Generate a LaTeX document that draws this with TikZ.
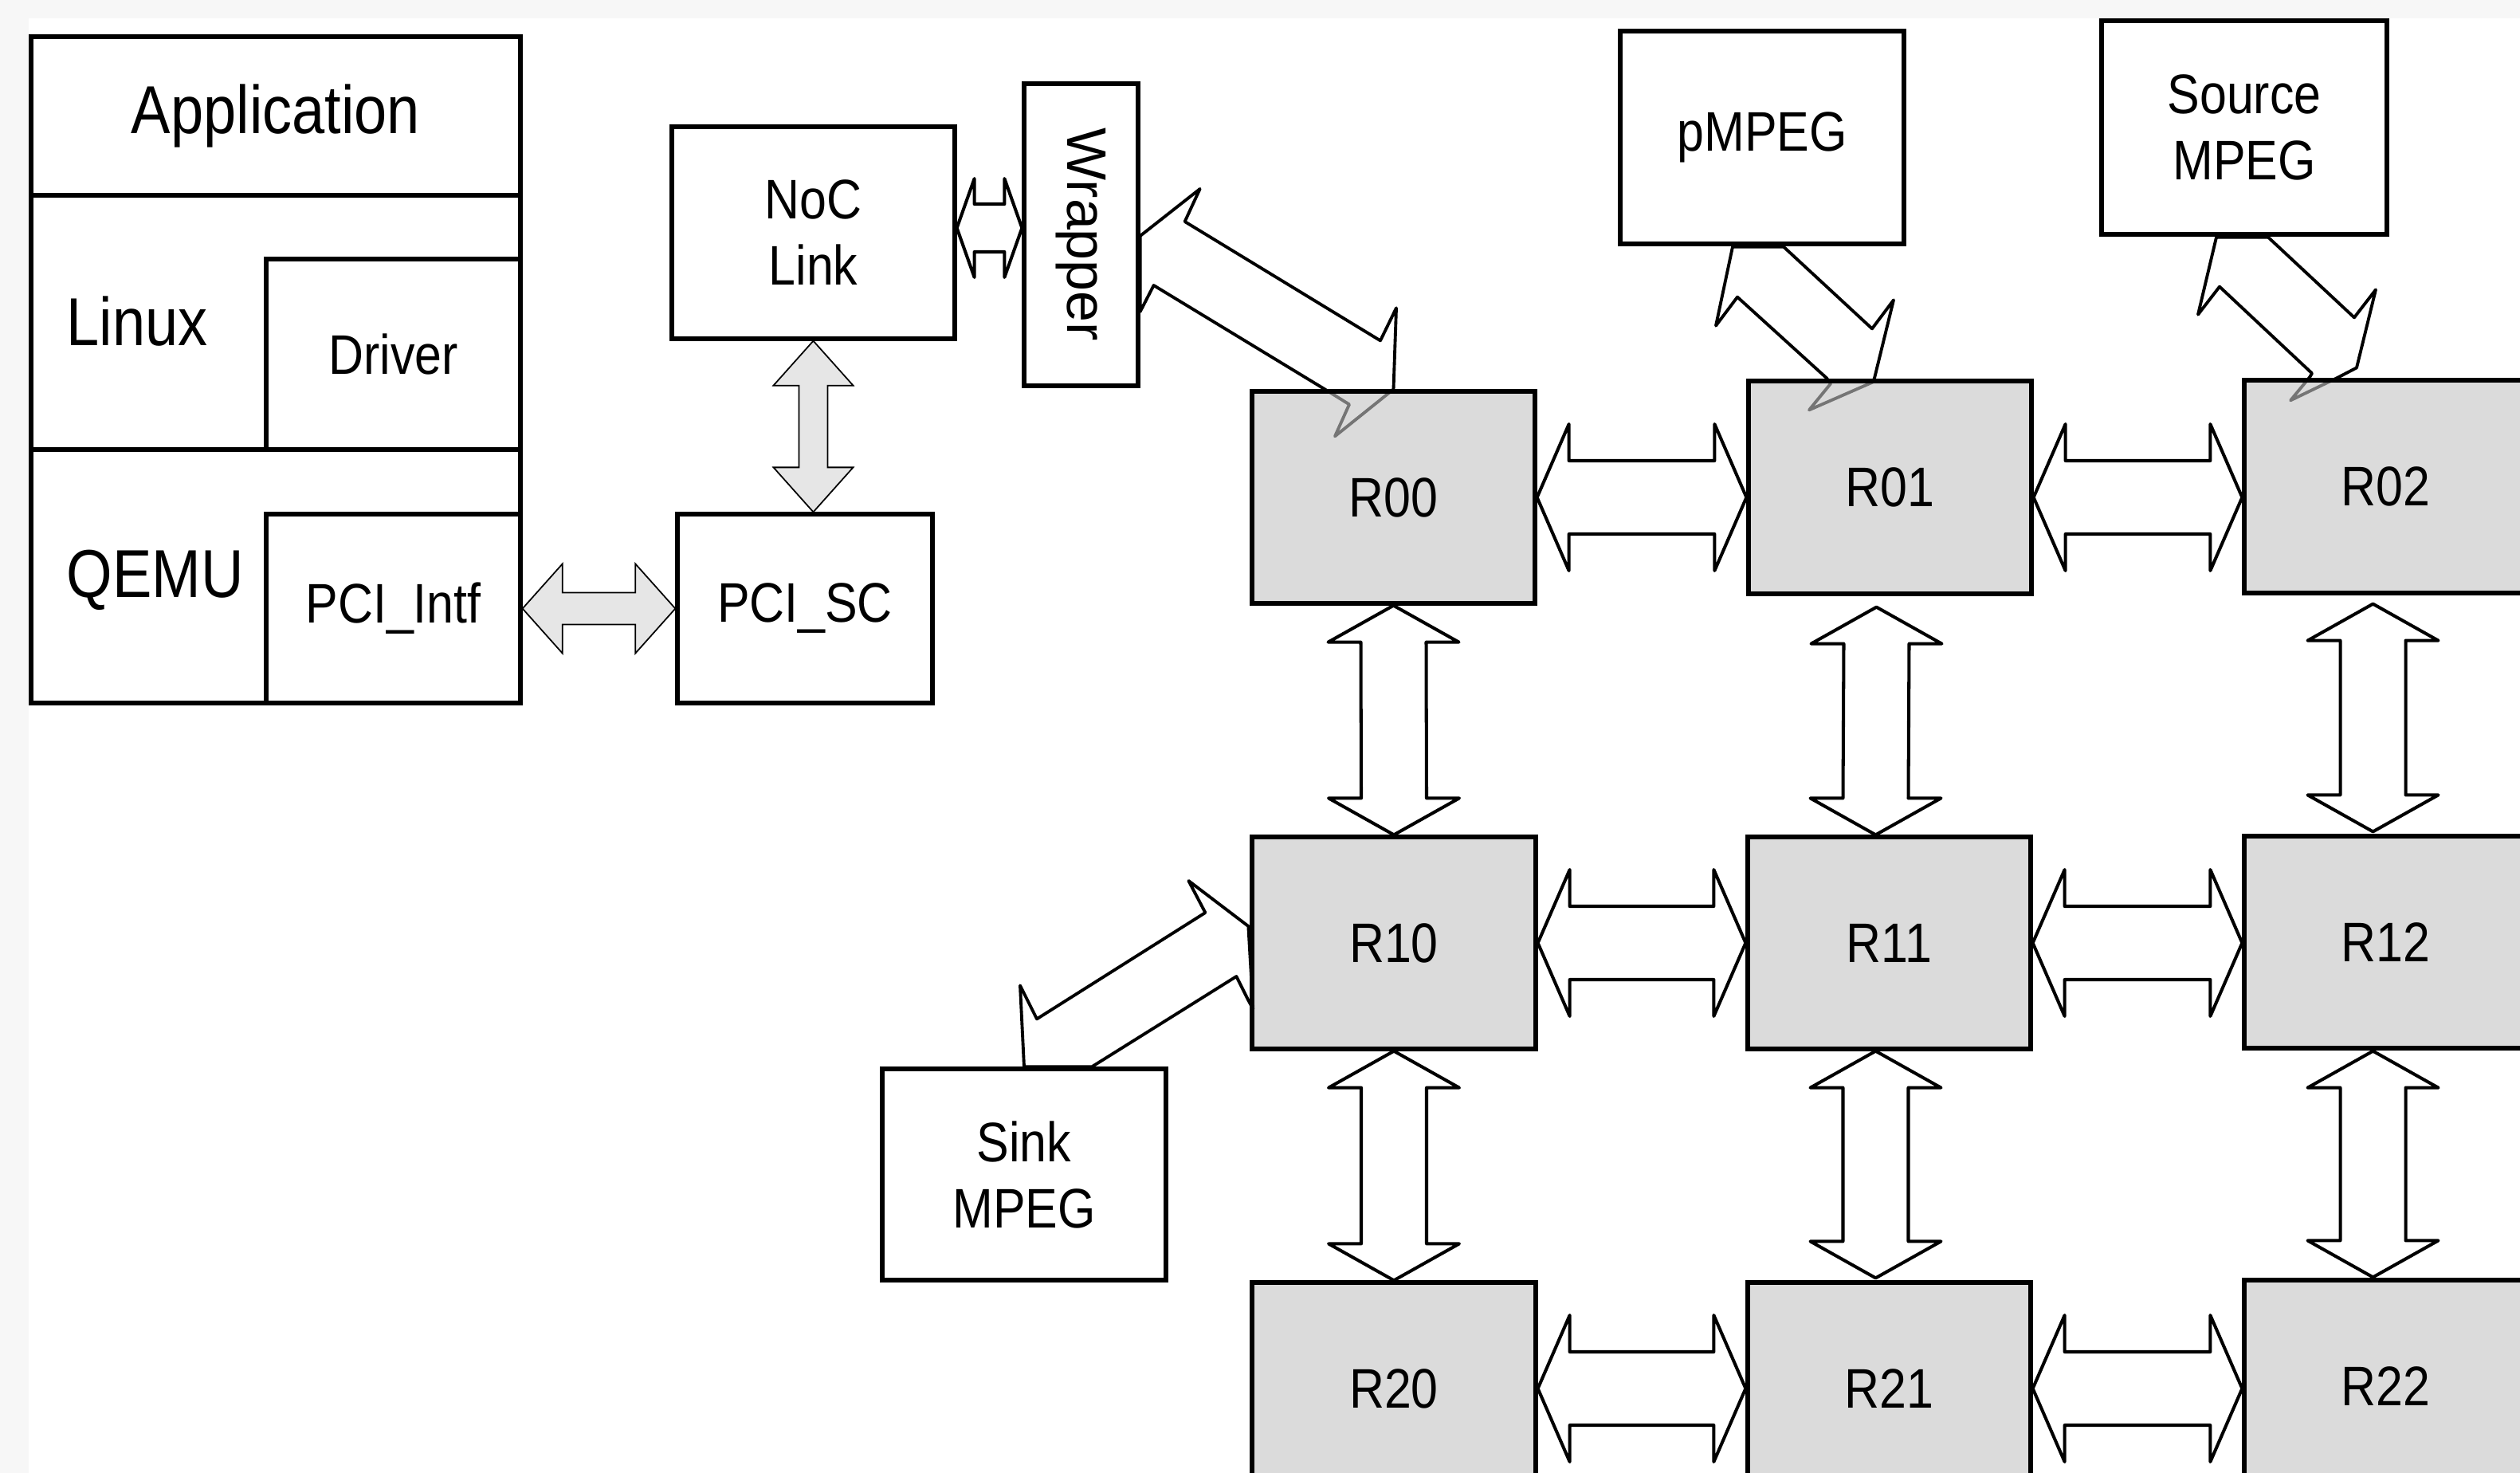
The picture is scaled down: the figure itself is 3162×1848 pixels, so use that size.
\documentclass[tikz,border=0pt]{standalone}
\usepackage{fontspec}
\setmainfont{Liberation Sans}[FakeStretch=0.87]
\newfontfamily\wrapfont{Liberation Sans}
\usetikzlibrary{calc}
\pgfdeclarelayer{paper}
\pgfdeclarelayer{links}
\pgfsetlayers{paper,links,main}
\definecolor{paperband}{HTML}{F7F7F7}
\definecolor{routerfill}{HTML}{C4C4C4}
\definecolor{portfill}{HTML}{E6E6E6}
\newcommand\bigsize{\fontsize{24.2}{29}\selectfont}
\newcommand\midsize{\fontsize{19.9}{23.6}\selectfont}
% rectangle node spanning two corners: style, name, x1, y1, x2, y2, text
\newcommand\boxnode[7][]{%
  \node[#1, minimum width={(#5-#3)*0.01cm}, minimum height={(#6-#4)*0.01cm}]
    (#2) at ({(#3+#5)/2},{(#4+#6)/2}) {#7};}
% horizontal double block arrow: style, left tip, right tip, head length, head half-height, shaft half-height
\newcommand\hdarrow[6]{%
  \draw[#1] #2 -- ++(#4,-#5) -- ++(0,#5-#6) -- ($#3+(-#4,-#6)$) -- ++(0,#6-#5) -- #3
    -- ++(-#4,#5) -- ++(0,#6-#5) -- ($#2+(#4,#6)$) -- ++(0,#5-#6) -- cycle;}
% vertical double block arrow: style, top tip, bottom tip, head length, head half-width, shaft half-width
\newcommand\vdarrow[6]{%
  \draw[#1] #2 -- ++(#5,#4) -- ++(#6-#5,0) -- ($#3+(#6,-#4)$) -- ++(#5-#6,0) -- #3
    -- ++(-#5,-#4) -- ++(#5-#6,0) -- ($#2+(-#6,#4)$) -- ++(#6-#5,0) -- cycle;}

\begin{document}
\begin{tikzpicture}[x=0.01cm,y=-0.01cm,
  box/.style={draw, line width=1.5pt, fill=white, inner sep=0pt, font=\midsize, align=center},
  router/.style={draw, line width=1.5pt, fill=routerfill, fill opacity=0.6, text opacity=1,
                 draw opacity=1, inner sep=0pt, font=\midsize},
  warrow/.style={draw, fill=white, line width=1.15pt, line join=round},
  garrow/.style={draw, fill=portfill, line width=0.5pt},
  zarrow/.style={draw, fill=white, line width=1.1pt, line join=round},
  lbl/.style={inner sep=0pt, anchor=base west, font=\bigsize}]

\useasboundingbox (0,0) rectangle (3162,1848);
\begin{pgfonlayer}{paper}
  \fill[paperband] (0,0) rectangle (3162,1848);
  \fill[white] (36,23) rectangle (3162,1848);
\end{pgfonlayer}

% host software stack
\boxnode[box, font=\bigsize]{app}{39}{46}{653}{245}{Application}
\boxnode[box]{linuxbox}{39}{245}{653}{564}{}
\boxnode[box]{qemubox}{39}{564}{653}{882}{}
\boxnode[box]{driver}{334}{325}{653}{564}{Driver}
\boxnode[box]{pciintf}{334}{645}{653}{882}{PCI\_Intf}
\node[lbl] (linuxlbl) at (83,433) {Linux};
\node[lbl] (qemulbl) at (83,749) {QEMU};

% bridge to the network
\boxnode[box]{noc}{843}{159}{1198}{425}{NoC\\Link}
\boxnode[box]{pcisc}{850}{645}{1170}{882}{PCI\_SC}
\boxnode[box]{wrapper}{1285}{105}{1428}{484}{}
\node[font=\wrapfont\midsize, rotate=-90, inner sep=0pt] (wraplbl) at (wrapper.center) {Wrapper};

% MPEG cores
\boxnode[box]{pmpeg}{2033}{39}{2389}{306}{pMPEG}
\boxnode[box]{src}{2637}{26}{2995}{294}{Source\\MPEG}
\boxnode[box]{sink}{1107}{1341}{1463}{1606}{Sink\\MPEG}

% 3x3 router mesh
\boxnode[router]{R00}{1571}{491}{1926}{757}{R00}
\boxnode[router]{R01}{2194}{478}{2549}{745}{R01}
\boxnode[router]{R02}{2816}{477}{3171}{744}{R02}
\boxnode[router]{R10}{1571}{1050}{1927}{1316}{R10}
\boxnode[router]{R11}{2193}{1050}{2548}{1316}{R11}
\boxnode[router]{R12}{2816}{1049}{3171}{1315}{R12}
\boxnode[router]{R20}{1571}{1609}{1927}{1875}{R20}
\boxnode[router]{R21}{2193}{1609}{2548}{1875}{R21}
\boxnode[router]{R22}{2816}{1606}{3171}{1872}{R22}

\begin{pgfonlayer}{links}
  % host side links
  \coordinate (gr) at (pciintf.east -| pcisc.west);
  \hdarrow{garrow}{(pciintf.east)}{(gr)}{50}{56}{20}
  \coordinate (gb) at (noc.south |- pcisc.north);
  \vdarrow{garrow}{(noc.south)}{(gb)}{56}{50}{18}
  \coordinate (nl) at ($(noc.east)+(0,-6)$);
  \coordinate (nr) at (nl -| wrapper.west);
  \hdarrow{warrow}{(nl)}{(nr)}{22}{62}{30}

  % mesh links, rows
  \coordinate (h1b) at (R00.east -| R01.west);
  \coordinate (h2a) at (R01.east |- R00.east);
  \coordinate (h2b) at (R00.east -| R02.west);
  \coordinate (h4b) at (R11.east -| R12.west);
  \coordinate (h6b) at (R21.east -| R22.west);
  \hdarrow{warrow}{(R00.east)}{(h1b)}{40}{92}{46}
  \hdarrow{warrow}{(h2a)}{(h2b)}{40}{92}{46}
  \hdarrow{warrow}{(R10.east)}{(R11.west)}{40}{92}{46}
  \hdarrow{warrow}{(R11.east)}{(h4b)}{40}{92}{46}
  \hdarrow{warrow}{(R20.east)}{(R21.west)}{40}{92}{46}
  \hdarrow{warrow}{(R21.east)}{(h6b)}{40}{92}{46}

  % mesh links, columns
  \coordinate (v1t) at ($(R01.south)+(-17,14)$);
  \coordinate (v1b) at ($(R11.north)+(-17,0)$);
  \coordinate (v2t) at ($(R02.south)+(-16,11)$);
  \coordinate (v2b) at ($(R12.north)+(-16,-3)$);
  \coordinate (v4t) at ($(R11.south)+(-17,0)$);
  \coordinate (v4b) at ($(R21.north)+(-17,-3)$);
  \coordinate (v5t) at ($(R12.south)+(-16,1)$);
  \coordinate (v5b) at ($(R22.north)+(-16,-1)$);
  \vdarrow{warrow}{(R00.south)}{(R10.north)}{46}{82}{41}
  \vdarrow{warrow}{(v1t)}{(v1b)}{46}{82}{41}
  \vdarrow{warrow}{(v2t)}{(v2b)}{46}{82}{41}
  \vdarrow{warrow}{(R10.south)}{(R20.north)}{46}{82}{41}
  \vdarrow{warrow}{(v4t)}{(v4b)}{46}{82}{41}
  \vdarrow{warrow}{(v5t)}{(v5b)}{46}{82}{41}

  % wrapper to R00
  \draw[zarrow] ($(wrapper.east)+(0,1.5)$) -- ($(wrapper.east)+(75,-57.5)$)
    -- ($(wrapper.east)+(56,-16.5)$) -- ($(R00.north)+(-16.5,-61)$)
    -- ($(R00.north)+(3.5,-102)$) -- (R00.north) -- ($(R00.north)+(-73.5,59)$)
    -- ($(R00.north)+(-55.5,19)$) -- ($(R00.north)+(-84.5,1)$)
    -- ($(wrapper.east)+(17,63.5)$) -- ($(wrapper.east)+(0,96.5)$) -- cycle;

  % pMPEG to R01
  \draw[zarrow] ($(pmpeg.south)+(-37,1)$) -- ($(pmpeg.south)+(-58,100)$)
    -- ($(pmpeg.south)+(-31,64)$) -- ($(R01.north)+(-79.5,-1)$)
    -- ($(R01.north)+(-74.5,6)$) -- ($(R01.north)+(-101.5,39)$)
    -- ($(R01.north)+(-21.5,4)$) -- ($(R01.north)+(-19.5,-1)$)
    -- ($(R01.north)+(4.5,-99)$) -- ($(R01.north)+(-22.5,-63)$)
    -- ($(pmpeg.south)+(27,1)$) -- cycle;

  % Source MPEG to R02
  \draw[zarrow] ($(src.south)+(-35,1)$) -- ($(src.south)+(-58,98)$)
    -- ($(src.south)+(-31,63)$) -- ($(R02.north)+(-92.5,-6)$)
    -- ($(R02.north)+(-95.5,-1)$) -- ($(R02.north)+(-119.5,28)$)
    -- ($(R02.north)+(-61.5,0)$) -- ($(R02.north)+(-36.5,-13)$)
    -- ($(R02.north)+(-12.5,-111)$) -- ($(R02.north)+(-39.5,-76)$)
    -- ($(src.south)+(30,1)$) -- cycle;

  % Sink MPEG to R10
  \draw[zarrow] (sink.north) -- ($(sink.north)+(-5,-102)$)
    -- ($(sink.north)+(16,-60)$) -- ($(R10.west)+(-56,-38)$)
    -- ($(R10.west)+(-77,-78)$) -- ($(R10.west)+(-2,-21)$)
    -- ($(R10.west)+(4,83)$) -- ($(R10.west)+(-2,72)$)
    -- ($(R10.west)+(-17,42)$) -- ($(sink.north)+(85,0)$) -- cycle;
\end{pgfonlayer}
\end{tikzpicture}
\end{document}
